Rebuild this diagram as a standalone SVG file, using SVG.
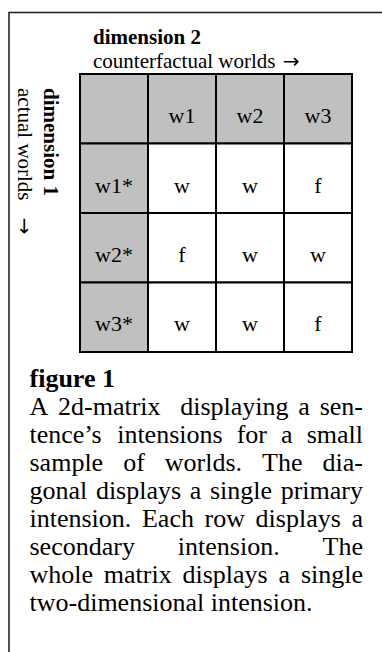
<svg xmlns="http://www.w3.org/2000/svg" width="382" height="652" viewBox="0 0 382 652">
<style>
  text { font-family: "Liberation Serif", "Times New Roman", serif; fill: #000; }
  .hd { font-size: 21px; }
  .b { font-weight: bold; }
  .arr { font-family: "DejaVu Sans", sans-serif; font-size: 20px; }
  .cell { font-size: 22px; text-anchor: middle; }
  .cap { font-size: 26px; }
  .grey { fill: #c0c0c0; stroke: #000; stroke-width: 2; }
  .white { fill: #fff; stroke: #000; stroke-width: 2; }
  .frame { fill: none; stroke: #1a1a1a; stroke-width: 1.5; }
</style>
<rect width="382" height="652" fill="#fff"/>
<g id="frame">
  <path class="frame" d="M9,652 V12.5 H382"/>
</g>
<g id="connectors"></g>
<g id="dim2-label">
  <text class="hd b" x="93" y="44">dimension 2</text>
  <text class="hd" x="93" y="68">counterfactual worlds <tspan class="arr" dx="2">→</tspan></text>
</g>
<g id="dim1-label">
  <text class="hd b" transform="translate(44,88) rotate(90)">dimension 1</text>
  <text class="hd" transform="translate(18,88) rotate(90)">actual worlds <tspan class="arr" dx="12">→</tspan></text>
</g>
<g id="matrix">
  <g id="corner"><rect class="grey" x="80" y="74" width="68" height="69.5"/></g>
  <g id="h-w1"><rect class="grey" x="148" y="74" width="68" height="69.5"/><text class="cell" x="182" y="123">w1</text></g>
  <g id="h-w2"><rect class="grey" x="216" y="74" width="68" height="69.5"/><text class="cell" x="250" y="123">w2</text></g>
  <g id="h-w3"><rect class="grey" x="284" y="74" width="68" height="69.5"/><text class="cell" x="318" y="123">w3</text></g>

  <g id="r-w1"><rect class="grey" x="80" y="143.5" width="68" height="69.5"/><text class="cell" x="114" y="193">w1*</text></g>
  <g id="c11"><rect class="white" x="148" y="143.5" width="68" height="69.5"/><text class="cell" x="182" y="193">w</text></g>
  <g id="c12"><rect class="white" x="216" y="143.5" width="68" height="69.5"/><text class="cell" x="250" y="193">w</text></g>
  <g id="c13"><rect class="white" x="284" y="143.5" width="68" height="69.5"/><text class="cell" x="318" y="193">f</text></g>

  <g id="r-w2"><rect class="grey" x="80" y="213" width="68" height="69.5"/><text class="cell" x="114" y="262">w2*</text></g>
  <g id="c21"><rect class="white" x="148" y="213" width="68" height="69.5"/><text class="cell" x="182" y="262">f</text></g>
  <g id="c22"><rect class="white" x="216" y="213" width="68" height="69.5"/><text class="cell" x="250" y="262">w</text></g>
  <g id="c23"><rect class="white" x="284" y="213" width="68" height="69.5"/><text class="cell" x="318" y="262">w</text></g>

  <g id="r-w3"><rect class="grey" x="80" y="282.5" width="68" height="69.5"/><text class="cell" x="114" y="331">w3*</text></g>
  <g id="c31"><rect class="white" x="148" y="282.5" width="68" height="69.5"/><text class="cell" x="182" y="331">w</text></g>
  <g id="c32"><rect class="white" x="216" y="282.5" width="68" height="69.5"/><text class="cell" x="250" y="331">w</text></g>
  <g id="c33"><rect class="white" x="284" y="282.5" width="68" height="69.5"/><text class="cell" x="318" y="331">f</text></g>
</g>
<g id="caption">
  <text class="cap b" x="29.5" y="387">figure 1</text>
  <text class="cap" y="415"><tspan x="29.5">A</tspan><tspan x="58.07">2d-matrix</tspan><tspan x="180.21">displaying</tspan><tspan x="298.35">a</tspan><tspan x="319.68">sen-</tspan></text>
  <text class="cap" y="443"><tspan x="29.5">tence’s</tspan><tspan x="117.18">intensions</tspan><tspan x="236.69">for</tspan><tspan x="281.06">a</tspan><tspan x="306.65">small</tspan></text>
  <text class="cap" y="471"><tspan x="29.5">sample</tspan><tspan x="123.17">of</tspan><tspan x="164.84">worlds.</tspan><tspan x="262.12">The</tspan><tspan x="322.56">dia-</tspan></text>
  <text class="cap" y="499"><tspan x="29.5">gonal</tspan><tspan x="95.9">displays</tspan><tspan x="189.76">a</tspan><tspan x="209.93">single</tspan><tspan x="280.67">primary</tspan></text>
  <text class="cap" y="527"><tspan x="29.5">intension.</tspan><tspan x="141.96">Each</tspan><tspan x="204.55">row</tspan><tspan x="255.6">displays</tspan><tspan x="351.45">a</tspan></text>
  <text class="cap" y="555"><tspan x="29.5">secondary</tspan><tspan x="177.81">intension.</tspan><tspan x="322.57">The</tspan></text>
  <text class="cap" y="583"><tspan x="29.5">whole</tspan><tspan x="103.84">matrix</tspan><tspan x="182.53">displays</tspan><tspan x="278.56">a</tspan><tspan x="300.9">single</tspan></text>
  <text class="cap" x="29.5" y="611">two-dimensional intension.</text>
</g>
</svg>
